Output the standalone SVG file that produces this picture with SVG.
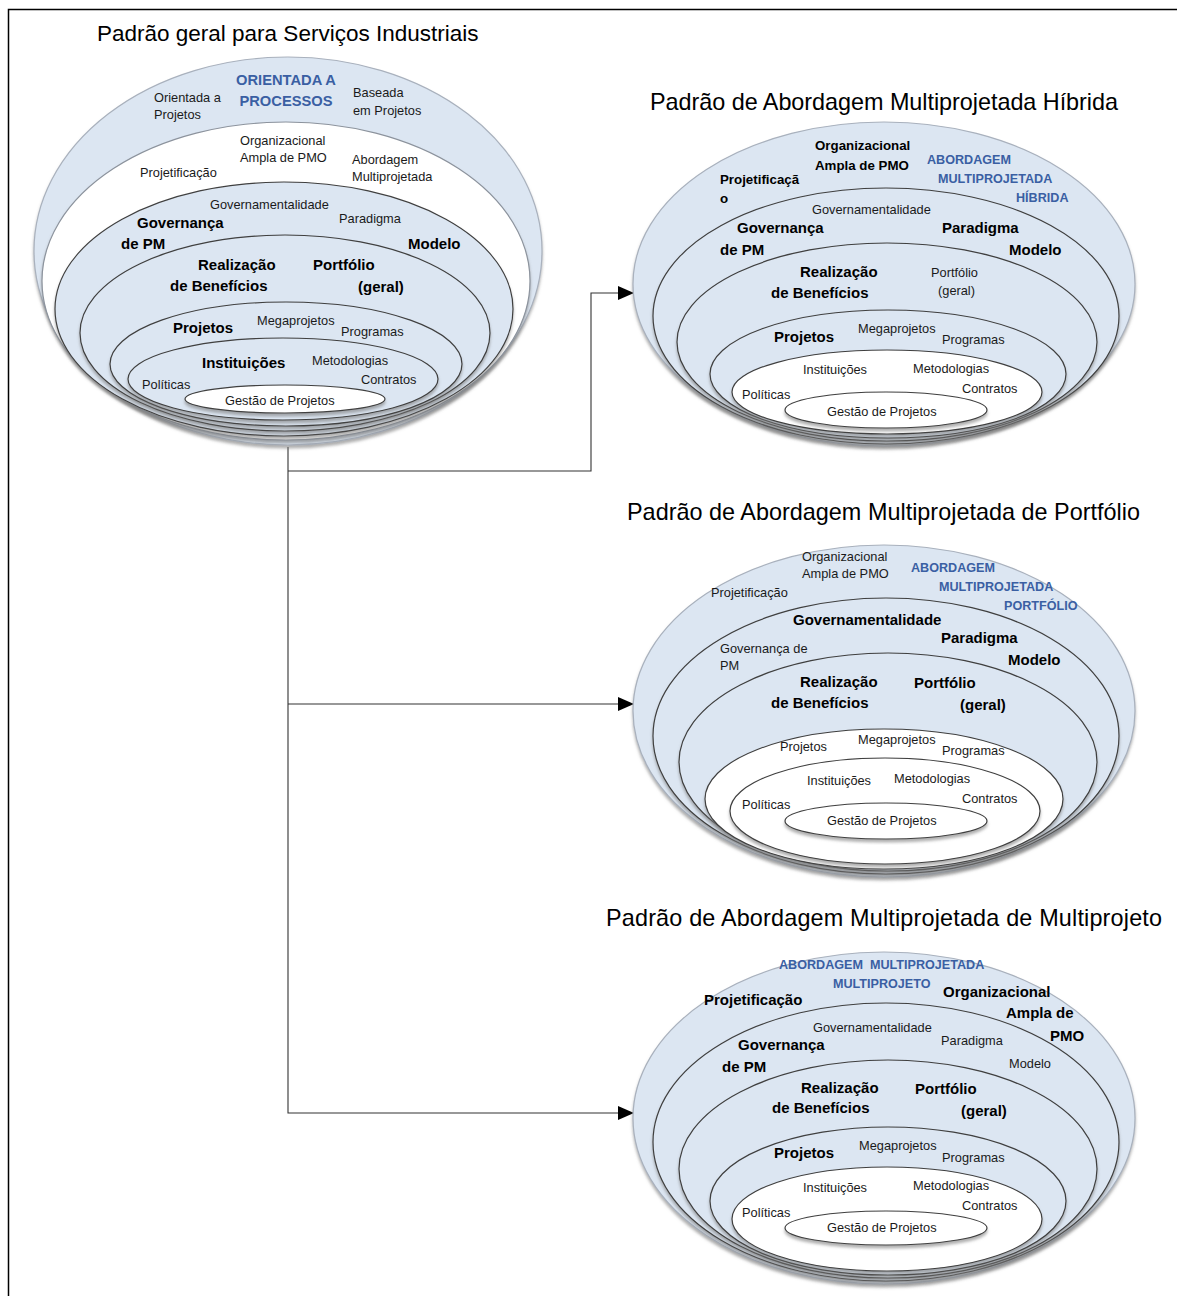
<svg xmlns="http://www.w3.org/2000/svg" width="1177" height="1296" viewBox="0 0 1177 1296">
<style>
text{font-family:"Liberation Sans",Arial,sans-serif;fill:#1a1a1a}
.n{font-size:12.8px}
.b{font-size:15px;font-weight:bold;fill:#000}
.bs{font-size:13.3px;font-weight:bold;fill:#000}
.bl{font-size:12.6px;font-weight:bold;fill:#3a5fa3}
.bl1{font-size:14.7px;font-weight:bold;fill:#3a5fa3}
.t{font-size:22.5px;fill:#000}
.t2{font-size:23.4px;fill:#000}
.o{fill:#dce6f2;stroke:#a9b1bd;stroke-width:1.2;filter:url(#sh)}
.lb{fill:#dce6f2;stroke:#3f3f3f;stroke-width:1.2;filter:url(#sh)}
.lw{fill:#ffffff;stroke:#3f3f3f;stroke-width:1.2;filter:url(#sh)}
.ow{fill:#ffffff;stroke:#8c939d;stroke-width:1.2;filter:url(#sh)}
.c{fill:none;stroke:#333;stroke-width:1.1}
</style>
<defs>
<filter id="sh" x="-10%" y="-10%" width="120%" height="125%">
<feDropShadow dx="0" dy="3" stdDeviation="1.4" flood-color="#7a7a7a" flood-opacity="0.6"/>
</filter>
<marker id="ar" markerUnits="userSpaceOnUse" markerWidth="18" markerHeight="16" refX="16" refY="8" orient="auto">
<path d="M0,1 L16,8 L0,15 Z" fill="#000"/>
</marker>
</defs>
<rect x="0" y="0" width="1177" height="1296" fill="#fff"/>
<rect x="8.5" y="9.5" width="1200" height="1320" fill="none" stroke="#000" stroke-width="1.5"/>

<g id="connectors">
<path class="c" d="M288,447 V1113 H634" marker-end="url(#ar)"/>
<path class="c" d="M288,471 H591 V293 H634" marker-end="url(#ar)"/>
<path class="c" d="M288,704 H634" marker-end="url(#ar)"/>
</g>

<g id="padrao-geral">
<text class="t" x="97" y="41">Padrão geral para Serviços Industriais</text>
<ellipse class="o" cx="288" cy="251" rx="254" ry="194"/>
<ellipse class="ow" cx="286" cy="281" rx="244" ry="159"/>
<ellipse class="lb" cx="284" cy="309" rx="229" ry="127"/>
<ellipse class="lb" cx="285" cy="333" rx="205" ry="98"/>
<ellipse class="lb" cx="286" cy="364" rx="176" ry="62"/>
<ellipse class="lb" cx="283" cy="379" rx="155" ry="41"/>
<ellipse class="lw" cx="285" cy="399" rx="100" ry="14"/>
<text class="bl1" x="286" y="85" text-anchor="middle">ORIENTADA A</text>
<text class="bl1" x="286" y="106" text-anchor="middle">PROCESSOS</text>
<text class="n" x="154" y="102">Orientada a</text>
<text class="n" x="154" y="119">Projetos</text>
<text class="n" x="353" y="97">Baseada</text>
<text class="n" x="353" y="115">em Projetos</text>
<text class="n" x="240" y="145">Organizacional</text>
<text class="n" x="240" y="162">Ampla de PMO</text>
<text class="n" x="140" y="177">Projetificação</text>
<text class="n" x="352" y="164">Abordagem</text>
<text class="n" x="352" y="181">Multiprojetada</text>
<text class="n" x="210" y="209">Governamentalidade</text>
<text class="n" x="339" y="223">Paradigma</text>
<text class="b" x="137" y="228">Governança</text>
<text class="b" x="121" y="249">de PM</text>
<text class="b" x="408" y="249">Modelo</text>
<text class="b" x="198" y="270">Realização</text>
<text class="b" x="170" y="291">de Benefícios</text>
<text class="b" x="313" y="270">Portfólio</text>
<text class="b" x="358" y="292">(geral)</text>
<text class="b" x="173" y="333">Projetos</text>
<text class="n" x="257" y="325">Megaprojetos</text>
<text class="n" x="341" y="336">Programas</text>
<text class="b" x="202" y="368">Instituições</text>
<text class="n" x="312" y="365">Metodologias</text>
<text class="n" x="361" y="384">Contratos</text>
<text class="n" x="142" y="389">Políticas</text>
<text class="n" x="225" y="405">Gestão de Projetos</text>
</g>

<g id="padrao-hibrida">
<text class="t2" x="650" y="110" textLength="468">Padrão de Abordagem Multiprojetada Híbrida</text>
<ellipse class="o" cx="884" cy="284" rx="251" ry="162"/>
<ellipse class="lb" cx="886" cy="316" rx="233" ry="128"/>
<ellipse class="lb" cx="887" cy="342" rx="210" ry="99"/>
<ellipse class="lb" cx="888" cy="374" rx="178" ry="64"/>
<ellipse class="lw" cx="887" cy="392" rx="155" ry="42"/>
<ellipse class="lw" cx="886" cy="410" rx="101" ry="18"/>
<text class="bs" x="815" y="150">Organizacional</text>
<text class="bs" x="815" y="170">Ampla de PMO</text>
<text class="bs" x="720" y="184">Projetificaçã</text>
<text class="bs" x="720" y="203">o</text>
<text class="bl" x="927" y="164">ABORDAGEM</text>
<text class="bl" x="938" y="183">MULTIPROJETADA</text>
<text class="bl" x="1016" y="202">HÍBRIDA</text>
<text class="n" x="812" y="214">Governamentalidade</text>
<text class="b" x="737" y="233">Governança</text>
<text class="b" x="720" y="255">de PM</text>
<text class="b" x="942" y="233">Paradigma</text>
<text class="b" x="1009" y="255">Modelo</text>
<text class="b" x="800" y="277">Realização</text>
<text class="b" x="771" y="298">de Benefícios</text>
<text class="n" x="931" y="277">Portfólio</text>
<text class="n" x="938" y="295">(geral)</text>
<text class="b" x="774" y="342">Projetos</text>
<text class="n" x="858" y="333">Megaprojetos</text>
<text class="n" x="942" y="344">Programas</text>
<text class="n" x="803" y="374">Instituições</text>
<text class="n" x="913" y="373">Metodologias</text>
<text class="n" x="962" y="393">Contratos</text>
<text class="n" x="742" y="399">Políticas</text>
<text class="n" x="827" y="416">Gestão de Projetos</text>
</g>

<g id="padrao-portfolio">
<text class="t2" x="627" y="520" textLength="513">Padrão de Abordagem Multiprojetada de Portfólio</text>
<ellipse class="o" cx="884" cy="711" rx="251" ry="166"/>
<ellipse class="lb" cx="886" cy="736" rx="233" ry="138"/>
<ellipse class="lb" cx="888" cy="762" rx="209" ry="109"/>
<ellipse class="lw" cx="884" cy="799" rx="179" ry="70"/>
<ellipse class="lw" cx="885" cy="811" rx="155" ry="53"/>
<ellipse class="lw" cx="886" cy="821" rx="101" ry="18"/>
<text class="n" x="802" y="561">Organizacional</text>
<text class="n" x="802" y="578">Ampla de PMO</text>
<text class="n" x="711" y="597">Projetificação</text>
<text class="bl" x="911" y="572">ABORDAGEM</text>
<text class="bl" x="939" y="591">MULTIPROJETADA</text>
<text class="bl" x="1004" y="610">PORTFÓLIO</text>
<text class="b" x="793" y="625">Governamentalidade</text>
<text class="b" x="941" y="643">Paradigma</text>
<text class="b" x="1008" y="665">Modelo</text>
<text class="n" x="720" y="653">Governança de</text>
<text class="n" x="720" y="670">PM</text>
<text class="b" x="800" y="687">Realização</text>
<text class="b" x="771" y="708">de Benefícios</text>
<text class="b" x="914" y="688">Portfólio</text>
<text class="b" x="960" y="710">(geral)</text>
<text class="n" x="780" y="751">Projetos</text>
<text class="n" x="858" y="744">Megaprojetos</text>
<text class="n" x="942" y="755">Programas</text>
<text class="n" x="807" y="785">Instituições</text>
<text class="n" x="894" y="783">Metodologias</text>
<text class="n" x="962" y="803">Contratos</text>
<text class="n" x="742" y="809">Políticas</text>
<text class="n" x="827" y="825">Gestão de Projetos</text>
</g>

<g id="padrao-multiprojeto">
<text class="t2" x="606" y="926" textLength="556">Padrão de Abordagem Multiprojetada de Multiprojeto</text>
<ellipse class="o" cx="884" cy="1118" rx="251" ry="166"/>
<ellipse class="lb" cx="886" cy="1142" rx="233" ry="139"/>
<ellipse class="lb" cx="888" cy="1169" rx="209" ry="109"/>
<ellipse class="lb" cx="888" cy="1201" rx="178" ry="74"/>
<ellipse class="lw" cx="887" cy="1219" rx="155" ry="52"/>
<ellipse class="lw" cx="886" cy="1228" rx="101" ry="17"/>
<text class="bl" x="779" y="969" style="white-space:pre">ABORDAGEM  MULTIPROJETADA</text>
<text class="bl" x="833" y="988">MULTIPROJETO</text>
<text class="b" x="704" y="1005">Projetificação</text>
<text class="b" x="943" y="997">Organizacional</text>
<text class="b" x="1006" y="1018">Ampla de</text>
<text class="b" x="1050" y="1041">PMO</text>
<text class="n" x="813" y="1032">Governamentalidade</text>
<text class="n" x="941" y="1045">Paradigma</text>
<text class="n" x="1009" y="1068">Modelo</text>
<text class="b" x="738" y="1050">Governança</text>
<text class="b" x="722" y="1072">de PM</text>
<text class="b" x="801" y="1093">Realização</text>
<text class="b" x="772" y="1113">de Benefícios</text>
<text class="b" x="915" y="1094">Portfólio</text>
<text class="b" x="961" y="1116">(geral)</text>
<text class="b" x="774" y="1158">Projetos</text>
<text class="n" x="859" y="1150">Megaprojetos</text>
<text class="n" x="942" y="1162">Programas</text>
<text class="n" x="803" y="1192">Instituições</text>
<text class="n" x="913" y="1190">Metodologias</text>
<text class="n" x="962" y="1210">Contratos</text>
<text class="n" x="742" y="1217">Políticas</text>
<text class="n" x="827" y="1232">Gestão de Projetos</text>
</g>
</svg>
